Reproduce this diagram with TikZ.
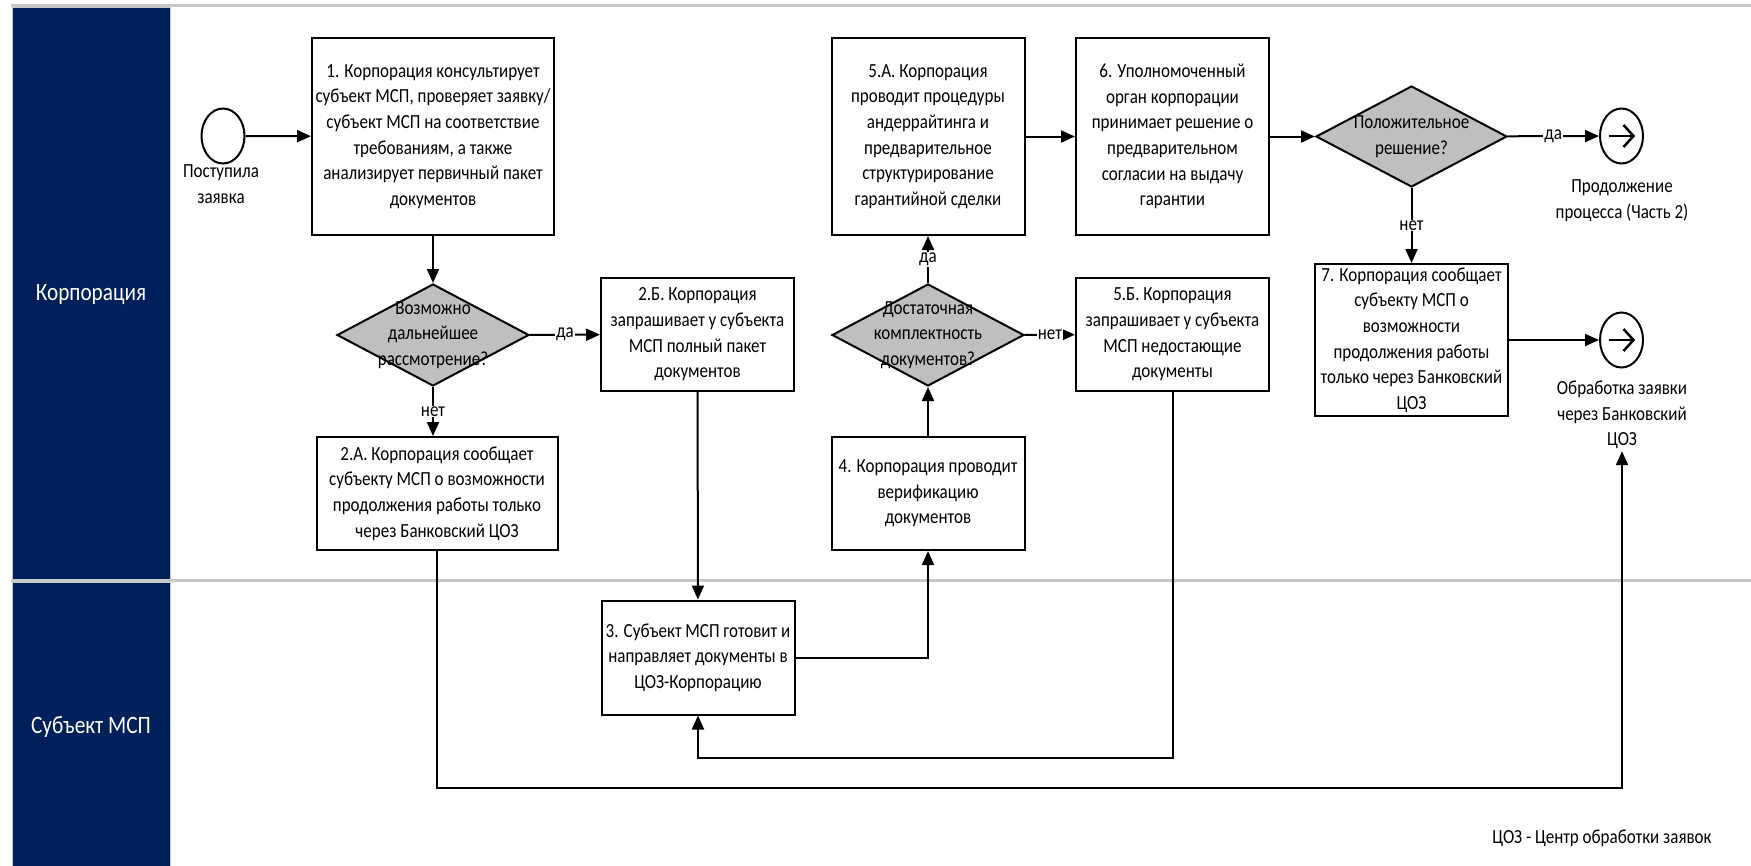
\documentclass[tikz,border=0pt]{standalone}
\usepackage{fontspec}
\setmainfont{Carlito}[FakeStretch=0.85]
\usetikzlibrary{arrows.meta}
\usetikzlibrary{shapes.geometric}
\definecolor{lanenavy}{RGB}{0,32,91}
\definecolor{lanegray}{RGB}{200,200,200}
\definecolor{decgray}{RGB}{191,191,191}
\newcommand{\bodyfont}{\fontsize{20}{25.6}\selectfont}
\tikzset{
  task/.style={draw,line width=2pt,fill=white,align=center,inner sep=0pt,minimum width=193pt,minimum height=113pt},
  decision/.style={draw,line width=2pt,fill=decgray,diamond,inner sep=0pt,minimum width=192pt,minimum height=102pt},
  dtext/.style={align=center,inner sep=0pt},
  event/.style={draw,line width=2pt,ellipse,inner sep=0pt,minimum width=43pt,minimum height=55pt},
  goto/.style={event,path picture={
    \draw[line width=2.5pt] ([xshift=-13pt]path picture bounding box.center) -- ([xshift=12pt]path picture bounding box.center);
    \draw[line width=2.5pt] ([xshift=2pt,yshift=11pt]path picture bounding box.center) -- ([xshift=12pt]path picture bounding box.center) -- ([xshift=2pt,yshift=-11pt]path picture bounding box.center);}},
  note/.style={align=center,inner sep=2pt},
  lanehead/.style={draw=lanegray,line width=1pt,fill=lanenavy},
  lanename/.style={text=white,font=\fontsize{25}{30}\selectfont},
  flow/.style={line width=2pt,-{Triangle[length=14pt,width=12pt]}},
  cond/.style={fill=white,inner sep=1pt}
}
\begin{document}
\begin{tikzpicture}[x=1pt,y=-1pt,every node/.style={font=\bodyfont}]
\useasboundingbox (0,0) rectangle (1751,865);
% lanes
\draw[lanegray,line width=3pt] (11,5) -- (1751,5);
\draw[lanegray,line width=3pt] (11,580.5) -- (1751,580.5);
\path[lanehead] (12.5,7) rectangle (170,579);
\path[lanehead] (12.5,582) rectangle (170,866);
\node[lanename] (corp) at (91,295) {Корпорация};
\node[lanename] (msp) at (91,727) {Субъект МСП};
% events
\node[event] (start) at (223,136) {};
\node[note] (startlbl) at (221,184) {Поступила\\заявка};
\node[goto] (end1) at (1621.5,136) {};
\node[note] (end1lbl) at (1622,200.5) {Продолжение\\процесса (Часть 2)};
\node[goto] (end2) at (1621.5,340) {};
\node[note] (end2lbl) at (1622,415) {Обработка заявки\\через Банковский\\ЦОЗ};
% tasks
\node[task,minimum width=242pt,minimum height=197pt] (t1) at (433,136.5) {1. Корпорация консультирует\\субъект МСП, проверяет заявку/\\субъект МСП на соответствие\\требованиям, а также\\анализирует первичный пакет\\документов};
\node[task,minimum width=241pt] (t2a) at (437,493.5) {2.А. Корпорация сообщает\\субъекту МСП о возможности\\продолжения работы только\\через Банковский ЦОЗ};
\node[task] (t2b) at (697.5,334.5) {2.Б. Корпорация\\запрашивает у субъекта\\МСП полный пакет\\документов};
\node[task,minimum height=114pt] (t3) at (698,657.5) {3. Субъект МСП готовит и\\направляет документы в\\ЦОЗ-Корпорацию};
\node[task] (t4) at (928,493.5) {4. Корпорация проводит\\верификацию\\документов};
\node[task,minimum height=197pt] (t5a) at (928,136.5) {5.А. Корпорация\\проводит процедуры\\андеррайтинга и\\предварительное\\структурирование\\гарантийной сделки};
\node[task] (t5b) at (1172.5,334.5) {5.Б. Корпорация\\запрашивает у субъекта\\МСП недостающие\\документы};
\node[task,minimum height=197pt] (t6) at (1172.5,136.5) {6. Уполномоченный\\орган корпорации\\принимает решение о\\предварительном\\согласии на выдачу\\гарантии};
\node[task,minimum height=152pt] (t7) at (1411.5,340) {7. Корпорация сообщает\\субъекту МСП о\\возможности\\продолжения работы\\только через Банковский\\ЦОЗ};
% decisions
\node[decision,label={[dtext]center:Возможно\\дальнейшее\\рассмотрение?}] (d1) at (433,335) {};
\node[decision,label={[dtext]center:Достаточная\\комплектность\\документов?}] (d2) at (928,335) {};
\node[decision,minimum width=191pt,minimum height=101pt,label={[dtext]center:Положительное\\решение?}] (d3) at (1411.5,136.5) {};
% connectors
\coordinate (backA) at (1173,758);
\coordinate (backB) at (437,788);
\draw[flow] (start) -- (t1);
\draw[flow] (t1) -- (d1);
\draw[flow] (d1.south) -- node[cond] {нет} (d1.south |- t2a.north);
\draw[flow] (d1) -- node[cond] {да} (t2b);
\draw[flow] (t2b) -- (t3);
\draw[flow] (t3.east) -| (t4.south);
\draw[flow] (t4) -- (d2);
\draw[flow] (d2) -- node[cond] {да} (t5a);
\draw[flow] (d2) -- node[cond] {нет} (t5b);
\draw[flow] (t5a) -- (t6);
\draw[flow] (t6) -- (d3);
\draw[flow] (d3) -- node[cond] {да} (end1);
\draw[flow] (d3) -- node[cond] {нет} (t7);
\draw[flow] (t7.east |- end2) -- (end2);
\draw[flow] (t5b.south -| backA) -- (backA) -| (t3.south);
\draw[flow] (t2a.south) -- (backB) -| (end2lbl.south);
% footnote
\node (legend) at (1602,838) {ЦОЗ - Центр обработки заявок};
\end{tikzpicture}
\end{document}
